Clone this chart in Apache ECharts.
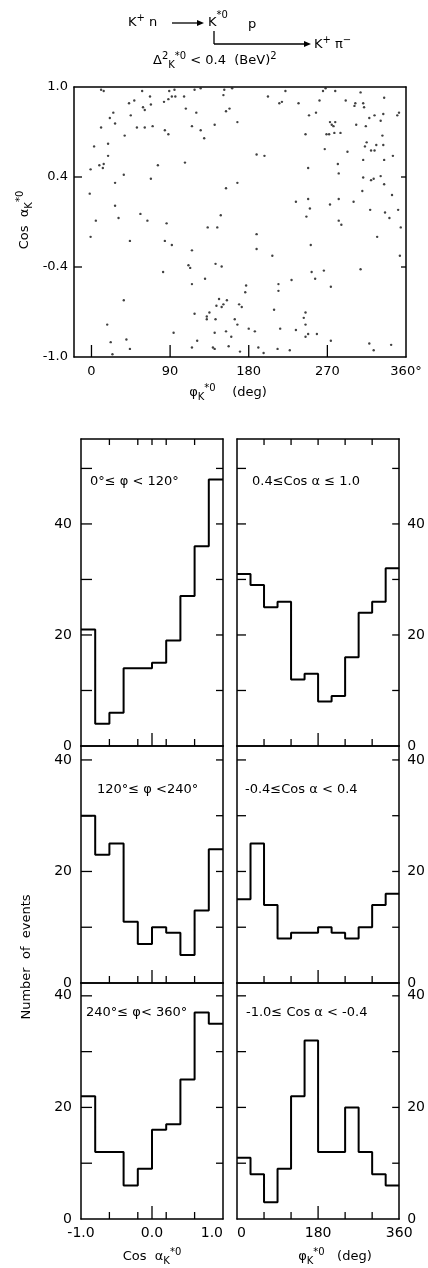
<!DOCTYPE html>
<html><head><meta charset="utf-8">
<script src="https://cdn.jsdelivr.net/npm/echarts@6/dist/echarts.min.js"></script>
<style>html,body{margin:0;padding:0;background:#fff}#c{width:428px;height:1268px}</style>
</head><body><div id="c"></div>
<script>
// ---------- DATA ----------
// Scatter plot: [phi_K*0 (deg), cos alpha_K*0 (axis units)]
const scatterPoints = [
[11,0.98],[14,0.97],[58,0.97],[89,0.97],[95,0.98],[67,0.93],[92,0.93],[96,0.93],[88,0.91],[106,0.93],
[49,0.90],[43,0.88],[59,0.85],[61,0.83],[68,0.87],[83,0.89],[25,0.81],[45,0.79],[21,0.77],[27,0.73],
[11,0.70],[52,0.70],[61,0.70],[70,0.71],[84,0.68],[88,0.65],[38,0.64],[19,0.58],[3,0.56],[19,0.49],
[9,0.42],[14,0.43],[13,0.40],[-1,0.39],[76,0.42],[107,0.44],[37,0.35],[68,0.32],[27,0.29],[-2,0.21],
[27,0.12],[31,0.03],[56,0.06],[64,0.01],[5,0.01],
[118,0.98],[125,0.99],[152,0.98],[161,0.99],[151,0.94],[202,0.93],[222,0.97],[218,0.89],[215,0.88],[108,0.84],
[120,0.81],[154,0.82],[158,0.84],[115,0.71],[141,0.72],[167,0.74],[125,0.68],[129,0.62],[189,0.50],[198,0.49],
[167,0.29],[154,0.25],[234,0.15],[148,0.05],
[268,0.99],[265,0.97],[279,0.97],[308,0.96],[335,0.92],[261,0.90],[291,0.90],[302,0.88],[301,0.86],[311,0.88],
[312,0.85],[237,0.88],[249,0.79],[257,0.81],[273,0.74],[275,0.72],[277,0.71],[279,0.74],[303,0.72],[314,0.71],
[318,0.77],[324,0.79],[334,0.80],[331,0.75],[350,0.79],[352,0.81],[245,0.65],[269,0.65],[272,0.65],[278,0.66],
[285,0.66],[333,0.64],[315,0.59],[313,0.56],[326,0.57],[334,0.57],[320,0.53],[324,0.53],[267,0.54],[293,0.52],
[345,0.49],[311,0.46],[335,0.46],[282,0.43],[248,0.40],[283,0.36],[311,0.33],[320,0.31],[323,0.32],[331,0.34],
[335,0.28],[310,0.23],[344,0.20],[248,0.17],[283,0.17],[273,0.13],[300,0.15],[250,0.10],[319,0.09],[351,0.09],
[336,0.07],[246,0.04],[341,0.03],[283,0.01],
[86,-0.01],[-1,-0.11],[44,-0.14],[84,-0.14],[92,-0.17],[82,-0.37],[37,-0.58],[18,-0.76],[94,-0.82],[40,-0.87],
[22,-0.89],[44,-0.94],[24,-0.98],
[133,-0.04],[144,-0.04],[189,-0.09],[115,-0.21],[189,-0.20],[207,-0.25],[111,-0.32],[113,-0.34],[142,-0.31],[149,-0.33],
[130,-0.42],[115,-0.46],[177,-0.47],[214,-0.46],[214,-0.51],[229,-0.43],[176,-0.52],[146,-0.57],[155,-0.58],[151,-0.61],
[149,-0.63],[143,-0.62],[169,-0.61],[172,-0.63],[135,-0.67],[118,-0.68],[132,-0.70],[132,-0.72],[142,-0.72],[164,-0.72],
[167,-0.76],[209,-0.65],[180,-0.79],[187,-0.81],[216,-0.79],[234,-0.80],[154,-0.81],[141,-0.82],[160,-0.85],[121,-0.88],
[115,-0.93],[139,-0.93],[141,-0.94],[157,-0.92],[191,-0.93],[170,-0.96],[197,-0.97],[213,-0.94],[227,-0.95],
[286,-0.02],[354,-0.04],[327,-0.11],[251,-0.17],[353,-0.25],[308,-0.35],[252,-0.37],[266,-0.36],[256,-0.42],[274,-0.48],
[245,-0.67],[243,-0.71],[245,-0.76],[248,-0.83],[245,-0.85],[258,-0.83],[274,-0.88],[318,-0.90],[343,-0.91],[323,-0.95]
];
const scatterXTickValues = [0, 90, 180, 270];
const scatterXLabelValues = [0, 90, 180, 270, 360];
const scatterXLabels = ['0', '90', '180', '270', '360°'];
const scatterYTickValues = [-1/3, 1/3];
const scatterYLabelValues = [-1, -1/3, 1/3, 1];
const scatterYLabels = ['-1.0', '-0.4', '0.4', '1.0'];

// Histogram bins
const cosBinEdges = [-1.0, -0.8, -0.6, -0.4, -0.2, 0.0, 0.2, 0.4, 0.6, 0.8, 1.0];
const phiBinEdges = [0, 30, 60, 90, 120, 150, 180, 210, 240, 270, 300, 330, 360];

// Number of events per bin (left column: vs cos alpha, right column: vs phi)
const cosHistPhi0to120   = [21, 4, 6, 14, 14, 15, 19, 27, 36, 48];
const cosHistPhi120to240 = [30, 23, 25, 11, 7, 10, 9, 5, 13, 24];
const cosHistPhi240to360 = [22, 12, 12, 6, 9, 16, 17, 25, 37, 35];
const phiHistCos04to10   = [31, 29, 25, 26, 12, 13, 8, 9, 16, 24, 26, 32];
const phiHistCosM04to04  = [15, 25, 14, 8, 9, 9, 10, 9, 8, 10, 14, 16];
const phiHistCosM10toM04 = [11, 8, 3, 9, 22, 32, 12, 12, 20, 12, 8, 6];

const cosTickValues = [-0.6, -0.2, 0.2, 0.6];
const cosMajorTick = [0];
const cosLabelValues = [-1, 0, 1];
const cosLabels = ['-1.0', '0.0', '1.0'];
const phiTickValues = [60, 120, 240, 300];
const phiMajorTick = [180];
const phiLabelValues = [0, 180, 360];
const phiLabels = ['0', '180', '360'];
const countLabelValues = [0, 20, 40];

// ---------- CHART ----------
const FONT = 'DejaVu Sans';
const BLACK = '#000';
const chart = echarts.init(document.getElementById('c'), null, {renderer: 'canvas', width: 428, height: 1268});
function axLine(show) { return {show: show, onZero: false, lineStyle: {color: BLACK, width: 1.5}}; }
const NOTICK = {show: false};

function fmtFrom(values, labels) {
  return function (v) {
    for (let i = 0; i < values.length; i++) if (Math.abs(values[i] - v) < 1e-6) return labels[i];
    return '';
  };
}
function stepData(edges, vals) {
  const d = vals.map((v, i) => [edges[i], v]);
  d.push([edges[edges.length - 1], vals[vals.length - 1]]);
  return d;
}
// Tick marks placed through the axes' scales; d = pixel direction/length of the tick
function tickSeries(xi, yi, ticks) {
  const dirs = ticks.map(t => t.d);
  return {
    type: 'custom', xAxisIndex: xi, yAxisIndex: yi, silent: true, clip: false, z: 5,
    data: ticks.map(t => t.v),
    renderItem: function (params, api) {
      const p = api.coord([api.value(0), api.value(1)]);
      const d = dirs[params.dataIndex];
      return {type: 'line', shape: {x1: p[0], y1: p[1], x2: p[0] + d[0], y2: p[1] + d[1]},
        style: {stroke: BLACK, lineWidth: 1.3}};
    }
  };
}

const grids = [{left: 74, top: 87, width: 332, height: 270, show: false}];
const xAxes = [{
  type: 'value', gridIndex: 0, position: 'bottom', min: -20, max: 360,
  axisLine: axLine(true), splitLine: {show: false}, axisTick: NOTICK,
  axisLabel: {show: true, customValues: scatterXLabelValues, formatter: fmtFrom(scatterXLabelValues, scatterXLabels),
    color: BLACK, fontFamily: FONT, fontSize: 13, margin: 8}
}, {
  type: 'value', gridIndex: 0, position: 'top', min: -20, max: 360,
  axisLine: axLine(true), splitLine: {show: false}, axisTick: NOTICK, axisLabel: {show: false}
}];
const yAxes = [{
  type: 'value', gridIndex: 0, position: 'left', min: -1, max: 1,
  axisLine: axLine(true), splitLine: {show: false}, axisTick: NOTICK,
  axisLabel: {show: true, customValues: scatterYLabelValues, formatter: fmtFrom(scatterYLabelValues, scatterYLabels),
    color: BLACK, fontFamily: FONT, fontSize: 13, margin: 6}
}, {
  type: 'value', gridIndex: 0, position: 'right', min: -1, max: 1,
  axisLine: axLine(true), splitLine: {show: false}, axisTick: NOTICK, axisLabel: {show: false}
}];
const series = [{
  type: 'scatter', xAxisIndex: 0, yAxisIndex: 0, data: scatterPoints,
  symbol: 'circle', symbolSize: 2.4, itemStyle: {color: '#111'}, silent: true
}];
const scatterTicks = [];
scatterXTickValues.forEach(v => scatterTicks.push({v: [v, -1], d: [0, -12]}));
scatterYTickValues.forEach(v => scatterTicks.push({v: [-20, v], d: [8, 0]}));
scatterYTickValues.forEach(v => scatterTicks.push({v: [360, v], d: [-5, 0]}));
series.push(tickSeries(0, 0, scatterTicks));

const cols = [
  {left: 81, width: 142, kind: 'cos'},
  {left: 237, width: 170, kind: 'phi'}
];
const rows = [
  {top: 439, height: 307, ymax: 55.3, yticks: [10, 20, 30, 40, 50]},
  {top: 746, height: 237, ymax: 42.5, yticks: [10, 20, 30, 40]},
  {top: 983, height: 236, ymax: 42.3, yticks: [10, 20, 30, 40]}
];
const panelData = [
  [cosHistPhi0to120, phiHistCos04to10],
  [cosHistPhi120to240, phiHistCosM04to04],
  [cosHistPhi240to360, phiHistCosM10toM04]
];

rows.forEach((r, ri) => {
  cols.forEach((c, ci) => {
    const g = grids.length;
    grids.push({left: c.left, top: r.top, width: c.width, height: r.height, show: false});
    const isCos = c.kind === 'cos';
    const xmin = isCos ? -1 : 0, xmax = isCos ? 1 : 360;
    const small = isCos ? cosTickValues : phiTickValues;
    const major = isCos ? cosMajorTick : phiMajorTick;
    const labVals = isCos ? cosLabelValues : phiLabelValues;
    const labs = isCos ? cosLabels : phiLabels;
    const xMain = xAxes.length;
    xAxes.push({
      type: 'value', gridIndex: g, position: 'bottom', min: xmin, max: xmax,
      axisLine: axLine(true), splitLine: {show: false}, axisTick: NOTICK,
      axisLabel: {show: ri === 2, customValues: labVals.slice(), formatter: fmtFrom(labVals, labs),
        color: BLACK, fontFamily: FONT, fontSize: 14, margin: 7,
        alignMinLabel: isCos ? 'center' : 'left', alignMaxLabel: isCos ? 'right' : 'center'}
    });
    xAxes.push({
      type: 'value', gridIndex: g, position: 'top', min: xmin, max: xmax,
      axisLine: axLine(true), splitLine: {show: false}, axisTick: NOTICK, axisLabel: {show: false}
    });
    const yMain = yAxes.length;
    yAxes.push({
      type: 'value', gridIndex: g, position: 'left', min: 0, max: r.ymax,
      axisLine: axLine(true), splitLine: {show: false}, axisTick: NOTICK,
      axisLabel: {show: ci === 0, customValues: countLabelValues.slice(), color: BLACK, fontFamily: FONT, fontSize: 14, margin: 9}
    });
    yAxes.push({
      type: 'value', gridIndex: g, position: 'right', min: 0, max: r.ymax,
      axisLine: axLine(true), splitLine: {show: false}, axisTick: NOTICK,
      axisLabel: {show: ci === 1, customValues: countLabelValues.slice(), color: BLACK, fontFamily: FONT, fontSize: 14, margin: 8}
    });
    series.push({
      type: 'line', xAxisIndex: xMain, yAxisIndex: yMain, step: 'end', symbol: 'none', silent: true,
      data: stepData(isCos ? cosBinEdges : phiBinEdges, panelData[ri][ci]),
      lineStyle: {color: BLACK, width: 2}
    });
    const ticks = [];
    small.forEach(v => ticks.push({v: [v, 0], d: [0, -7]}));
    major.forEach(v => ticks.push({v: [v, 0], d: [0, -13]}));
    if (ri === 0) small.concat(major).forEach(v => ticks.push({v: [v, r.ymax], d: [0, 6]}));
    r.yticks.forEach(v => ticks.push({v: [xmin, v], d: [ci === 0 ? 11 : 9, 0]}));
    r.yticks.forEach(v => ticks.push({v: [xmax, v], d: [-7, 0]}));
    series.push(tickSeries(xMain, yMain, ticks));
  });
});

const rich = {
  m: {fontSize: 13, fontFamily: FONT, color: BLACK},
  sup: {fontSize: 10, fontFamily: FONT, color: BLACK, padding: [0, 0, 9, 0]},
  supH: {fontSize: 10, fontFamily: FONT, color: BLACK, padding: [0, 0, 16, 0]},
  sub: {fontSize: 10, fontFamily: FONT, color: BLACK, padding: [8, 0, 0, 0]}
};
function txt(x, y, text, opts) {
  opts = opts || {};
  return {type: 'text', x: x, y: y, rotation: opts.rotation || 0, silent: true,
    style: {text: text, rich: rich, fontFamily: FONT, fontSize: 13, fill: BLACK,
      align: opts.align || 'left', verticalAlign: 'middle'}};
}
function seg(x1, y1, x2, y2) {
  return {type: 'line', silent: true, shape: {x1: x1, y1: y1, x2: x2, y2: y2}, style: {stroke: BLACK, lineWidth: 1.3}};
}
function head(x, y) {
  return {type: 'polygon', silent: true, shape: {points: [[x - 7, y - 3], [x, y], [x - 7, y + 3]]}, style: {fill: BLACK}};
}
const graphics = [
  txt(128, 23, '{m|K}{sup|+}{m| n}'),
  seg(172, 23, 198, 23), head(204, 23),
  txt(208, 23, '{m|K}{supH|*0}'),
  txt(248, 25, '{m|p}'),
  seg(214, 31, 214, 44), seg(214, 44, 305, 44), head(311, 44),
  txt(314, 45, '{m|K}{sup|+}{m| π}{sup|−}'),
  txt(153, 61, '{m|Δ}{sup|2}{sub|K}{sup|*0}{m| < 0.4  (BeV)}{sup|2}'),
  txt(25, 220, '{m|Cos  α}{sub|K}{sup|*0}', {rotation: Math.PI / 2, align: 'center'}),
  txt(228, 393, '{m|φ}{sub|K}{sup|*0}{m|    (deg)}', {align: 'center'}),
  txt(90, 482, '0°≤ φ < 120°'),
  txt(252, 482, '0.4≤Cos α ≤ 1.0'),
  txt(97, 790, '120°≤ φ <240°'),
  txt(245, 790, '-0.4≤Cos α < 0.4'),
  txt(86, 1013, '240°≤ φ< 360°'),
  txt(246, 1013, '-1.0≤ Cos α < -0.4'),
  txt(27, 957, 'Number  of  events', {rotation: Math.PI / 2, align: 'center'}),
  txt(152, 1257, '{m|Cos  α}{sub|K}{sup|*0}', {align: 'center'}),
  txt(335, 1257, '{m|φ}{sub|K}{sup|*0}{m|   (deg)}', {align: 'center'})
];

chart.setOption({
  backgroundColor: '#fff',
  animation: false,
  grid: grids,
  xAxis: xAxes,
  yAxis: yAxes,
  series: series,
  graphic: graphics
});
</script>
</body></html>
